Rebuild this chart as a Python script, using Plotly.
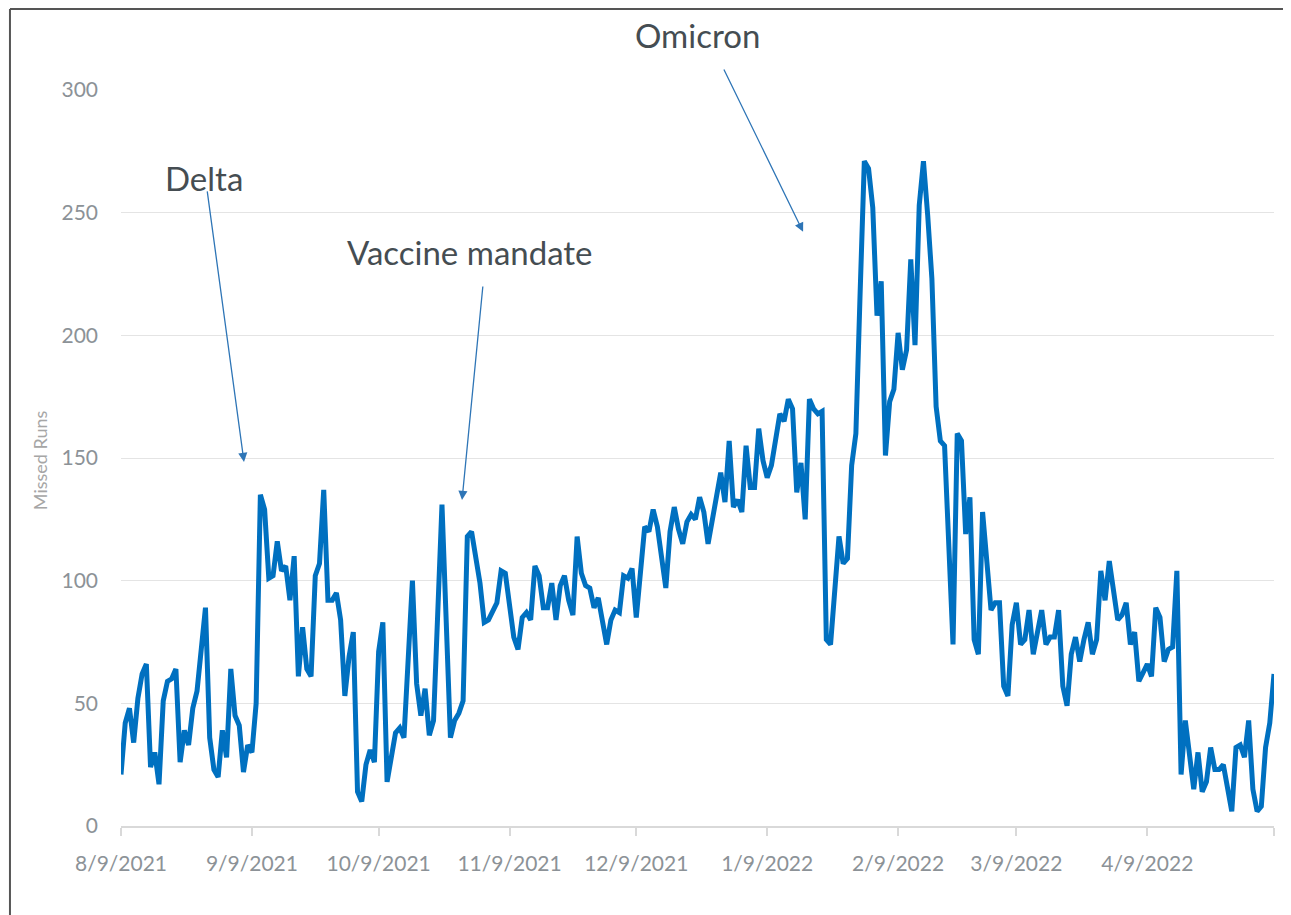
import plotly.graph_objects as go
import pandas as pd

# ---- data ----
start_date = "2021-08-09"
missed_runs = [
    21, 42, 48, 34, 52, 62, 66, 24, 30, 17,
    51, 59, 60, 64, 26, 39, 33, 48, 55, None,
    89, 36, 23, 20, 39, 28, 64, 45, 41, 22,
    33, 30, 50, 135, 129, 101, 102, 116, 104, 106,
    92, 110, 61, 81, 64, 61, 102, 107, 137, 92,
    92, 95, 84, 53, 69, 79, 14, 10, 25, 31,
    26, 71, 83, 18, None, 38, 40, 36, None, 100,
    58, 45, 56, 37, 43, None, 131, None, 36, 43,
    46, 51, 118, 120, None, 99, 83, 84, None, 91,
    104, 103, None, 77, 72, 85, 87, 84, 106, 102,
    89, 89, 99, 84, 98, 102, 92, 86, 118, 103,
    98, 97, 89, 93, None, 74, 84, 88, 87, 102,
    101, 105, 85, None, 122, 120, 129, 122, None, 97,
    120, 130, 121, 115, 124, 127, 125, 134, 128, 115,
    None, 133, 144, 132, 157, 130, 133, 128, 155, 138,
    138, 162, 149, 142, 147, None, 168, 165, 174, 170,
    136, 148, 125, 174, 170, 168, 169, 76, 74, 98,
    118, 107, 109, 147, 160, 217, 271, 268, 252, 208,
    222, 151, 173, 178, 201, 186, 194, 231, 196, 253,
    271, 249, 223, 171, 157, 155, None, 74, 160, 157,
    119, 134, 76, 70, 128, 108, 88, 91, 91, 57,
    53, 82, 91, 74, 76, 88, 70, None, 88, 74,
    77, 77, 88, 57, 49, 70, 77, 67, 76, 83,
    70, 76, 104, 92, 108, 95, 84, 86, 91, 74,
    79, 59, 62, 66, 61, 89, 85, 67, 72, 73,
    104, 21, 43, None, 15, 30, 14, 18, 32, 23,
    23, 25, None, 6, 32, 33, 28, 43, 15, 6,
    8, 32, 42, 62,
]
dates = pd.date_range(start_date, periods=len(missed_runs), freq="D")

tick_dates = ["2021-08-09", "2021-09-09", "2021-10-09", "2021-11-09", "2021-12-09",
              "2022-01-09", "2022-02-09", "2022-03-09", "2022-04-09", "2022-05-09"]
tick_labels = ["8/9/2021", "9/9/2021", "10/9/2021", "11/9/2021", "12/9/2021",
               "1/9/2022", "2/9/2022", "3/9/2022", "4/9/2022", ""]
y_ticks = [0, 50, 100, 150, 200, 250, 300]

# annotation labels: (text, x (date), y (paper fraction of plot height))
labels = [
    ("Delta", "2021-08-28 17:00", 0.8804),
    ("Vaccine mandate", "2021-10-30 17:00", 0.7799),
    ("Omicron", "2021-12-23 12:00", 1.0747),
]
# arrows: (tail_x, tail_y, head_x, head_y) in data units
arrows = [
    ("2021-08-29 09:00", 259.3, "2021-09-07 03:00", 148.4),
    ("2021-11-02 17:00", 220.5, "2021-10-28 18:00", 132.9),
    ("2021-12-29 14:00", 309.0, "2022-01-17 12:00", 242.2),
]

FONT = "Lato"
TICK_COLOR = "#8c9297"
TEXT_COLOR = "#454d52"
LINE_COLOR = "#0070c0"

fig = go.Figure()
fig.add_trace(go.Scatter(
    x=dates, y=missed_runs, mode="lines", connectgaps=True,
    line=dict(color=LINE_COLOR, width=5),
    hoverinfo="x+y", showlegend=False,
))

annotations = []
for text, x, y in labels:
    annotations.append(dict(
        text=text, x=x, y=y, xref="x", yref="paper", showarrow=False,
        xanchor="center", yanchor="middle",
        font=dict(family=FONT, size=33, color=TEXT_COLOR),
    ))
for tx, ty, hx, hy in arrows:
    annotations.append(dict(
        text="", x=hx, y=hy, ax=tx, ay=ty, xref="x", yref="y",
        axref="x", ayref="y", showarrow=True, arrowhead=2, arrowsize=1.4,
        arrowwidth=1.3, arrowcolor="#2e75b6", standoff=0,
    ))
annotations.append(dict(
    text="Missed Runs", x=-0.0703, y=0.497, xref="paper", yref="paper",
    textangle=-90, showarrow=False, xanchor="center", yanchor="middle",
    font=dict(family=FONT, size=18, color="#a6a6a6"),
))

# frame around the chart
FL, FR, FT, FB = -0.0963, 1.0145, 1.1101, -0.14
shapes = [
    dict(type="line", xref="paper", yref="paper", x0=FL, x1=FL, y0=FT, y1=FB,
         line=dict(color="#555555", width=2)),
    dict(type="line", xref="paper", yref="paper", x0=FL, x1=FR, y0=FT, y1=FT,
         line=dict(color="#555555", width=2)),
    dict(type="line", xref="paper", yref="paper", x0=FR, x1=FR, y0=FT, y1=FB,
         line=dict(color="#c8c8c8", width=1.5)),
]

# the page body adds an 8px offset; the figure is sized to fit the window
fig.update_layout(
    width=1283, height=907,
    margin=dict(l=113, r=17, t=82, b=89),
    paper_bgcolor="white", plot_bgcolor="white",
    font=dict(family=FONT),
    annotations=annotations,
    shapes=shapes,
    xaxis=dict(
        type="date", range=[tick_dates[0], tick_dates[-1]],
        tickvals=tick_dates, ticktext=tick_labels,
        showgrid=False, showline=True, linecolor="#d9d9d9", linewidth=1.5,
        ticks="outside", ticklen=8, tickcolor="#d9d9d9", tickwidth=1.5,
        tickfont=dict(family=FONT, size=21, color=TICK_COLOR),
        ticklabelstandoff=10, zeroline=False,
    ),
    yaxis=dict(
        range=[0, 300], tickvals=y_ticks,
        showgrid=True, gridcolor="#e4e4e4", gridwidth=1,
        zeroline=False, showline=False, ticks="",
        tickfont=dict(family=FONT, size=21, color=TICK_COLOR),
        ticklabelstandoff=22,
    ),
)

fig.write_html("out.html")
